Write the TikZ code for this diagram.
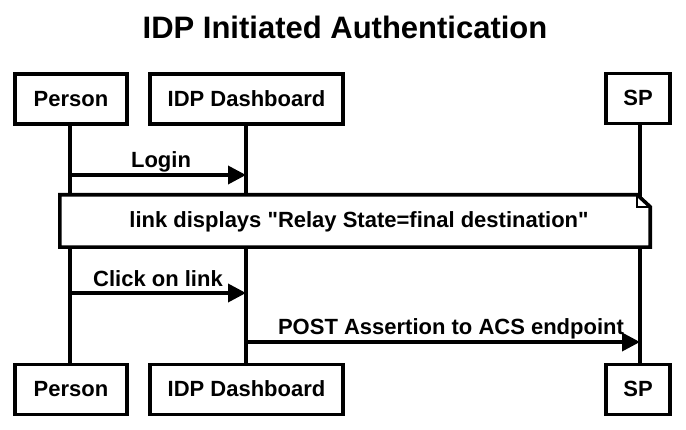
\documentclass[tikz,border=0pt]{standalone}
\usepackage{fontspec}
\setmainfont{Liberation Sans}[Ligatures=TeXOff]
\usetikzlibrary{arrows.meta}
\tikzset{
  actor/.style={draw=black, line width=3.6pt, fill=white, minimum height=50pt, inner sep=0pt,
    text height=15pt, text depth=0pt,
    font=\fontsize{22}{26}\selectfont\bfseries},
  lifeline/.style={line width=3.6pt},
  msg/.style={line width=3.6pt, -{Triangle[length=18pt,width=18pt]}},
  msglabel/.style={font=\fontsize{22}{26}\selectfont\bfseries, inner sep=0pt, anchor=base},
  notebox/.style={draw=black, line width=3.6pt, fill=white, line join=miter},
}
\begin{document}
\begin{tikzpicture}[x=1pt,y=-1pt]
\useasboundingbox[fill=white] (0,0) rectangle (686,430);
\node[font=\fontsize{31}{36}\selectfont\bfseries, anchor=base] (title) at (345,39) {IDP Initiated Authentication};
% actors top
\node[actor, minimum width=112pt] (p1) at (71,99) {Person};
\node[actor, minimum width=193pt] (i1) at (246.5,99) {IDP Dashboard};
\node[actor, minimum width=64pt] (s1) at (638,98.5) {SP};
% actors bottom
\node[actor, minimum width=112pt] (p2) at (71,389.5) {Person};
\node[actor, minimum width=193pt] (i2) at (246.5,389.5) {IDP Dashboard};
\node[actor, minimum width=64pt] (s2) at (638,389.5) {SP};
% lifelines
\coordinate (pt) at (70,124.5); \coordinate (pb) at (70,364.5);
\coordinate (it) at (246,124.5); \coordinate (ib) at (246,364.5);
\coordinate (st) at (640,124); \coordinate (sb) at (640,364.5);
\draw[lifeline] (pt) -- (pb);
\draw[lifeline] (it) -- (ib);
\draw[lifeline] (st) -- (sb);
% Login
\coordinate (m1a) at (70,175); \coordinate (m1b) at (246,175);
\draw[msg] (m1a) -- (m1b);
\node[msglabel] (m1l) at (161,168) {Login};
% note
\node[inner sep=0pt, minimum width=590pt, minimum height=52pt] (note) at (355,221) {};
\draw[notebox] (note.north west) -- ([xshift=-13pt]note.north east) -- ([yshift=-12pt]note.north east) -- (note.south east) -- (note.south west) -- cycle;
\draw[line width=2.4pt, line join=miter] ([xshift=-13pt]note.north east) -- ([xshift=-13pt,yshift=-12pt]note.north east) -- ([yshift=-12pt]note.north east);
\node[msglabel] (notetext) at (359,228) {link displays "Relay State=final destination"};
% Click on link
\coordinate (m2a) at (70,293); \coordinate (m2b) at (246,293);
\draw[msg] (m2a) -- (m2b);
\node[msglabel] (m2l) at (158,287) {Click on link};
% POST
\coordinate (m3a) at (246,342); \coordinate (m3b) at (640,342);
\draw[msg] (m3a) -- (m3b);
\node[msglabel] (m3l) at (451,335) {POST Assertion to ACS endpoint};
\end{tikzpicture}
\end{document}
